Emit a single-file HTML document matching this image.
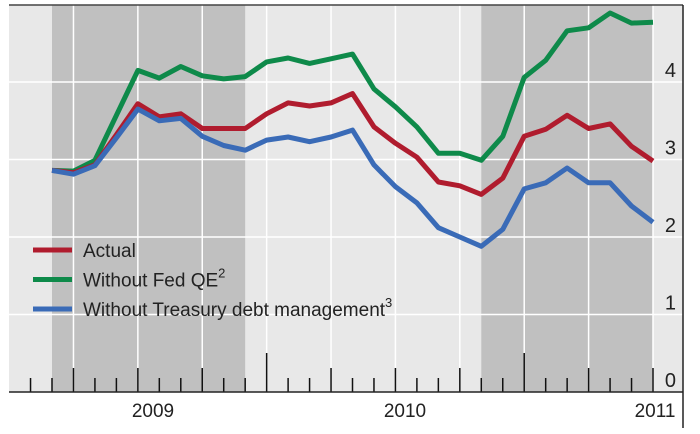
<!DOCTYPE html>
<html><head><meta charset="utf-8"><style>
html,body{margin:0;padding:0;background:#fff;}
svg{display:block;font-family:"Liberation Sans",Arial,sans-serif;}
</style></head><body>
<svg id="chart" width="700" height="434" viewBox="0 0 700 434" xmlns="http://www.w3.org/2000/svg"></svg>
<script>
const actual = [2.86,2.83,2.93,3.32,3.72,3.55,3.59,3.40,3.40,3.40,3.59,3.73,3.69,3.73,3.85,3.42,3.21,3.03,2.71,2.66,2.55,2.76,3.30,3.39,3.57,3.40,3.46,3.17,2.98];
const withoutQE = [2.86,2.85,2.99,3.57,4.15,4.05,4.20,4.08,4.04,4.07,4.26,4.31,4.24,4.30,4.36,3.91,3.68,3.42,3.08,3.08,2.99,3.30,4.06,4.28,4.66,4.70,4.89,4.76,4.77];
const withoutTreasury = [2.86,2.81,2.92,3.28,3.65,3.50,3.53,3.30,3.18,3.12,3.25,3.29,3.23,3.29,3.38,2.93,2.65,2.44,2.12,2.00,1.88,2.10,2.62,2.70,2.89,2.70,2.70,2.40,2.19];
const yTicks = [0,1,2,3,4];
const yearLabels = ["2009","2010","2011"];
const shadedRanges = [[0,9],[20,28]];

const NS="http://www.w3.org/2000/svg";
const svg=document.getElementById('chart');
const L=9,R=683,T=5,B=392;
const x0=52,dx=(653-52)/28;
function xs(i){return x0+dx*i;}
function ys(v){return B-77.5*v;}
function mk(t,a,p){const e=document.createElementNS(NS,t);for(const k in a)e.setAttribute(k,a[k]);(p||svg).appendChild(e);return e;}

const bg=mk('rect',{x:L,y:T,width:R-L,height:B-T,fill:'#e8e8e8'});


shadedRanges.forEach(r=>{
  const s=mk('rect',{x:xs(r[0]),y:T,width:xs(r[1])-xs(r[0]),height:B-T,fill:'#c0c0c0'});
  
  
});
// vertical quarter gridlines
for(let i=1;i<=28;i+=3){
  const g=mk('line',{x1:xs(i),x2:xs(i),y1:T,y2:B,stroke:'#fff','stroke-width':1.5});
  
  
}
yTicks.forEach(v=>{
  if(v>0){
    const g=mk('line',{x1:L,x2:R,y1:ys(v),y2:ys(v),stroke:'#fff','stroke-width':1.5});
    
    
  }
  const t=mk('text',{x:676,y:ys(v)-5,'text-anchor':'end','font-size':20,fill:'#222'});
  t.textContent=v;
  
  
});
// month ticks
for(let k=-1;k<=28;k++){
  const x=xs(k);
  const q=((k-1)%3+3)%3===0;
  const yr=(k===10||k===22);
  const top=yr?353:(q?368:378);
  const tk=mk('line',{x1:x,x2:x,y1:top,y2:B,stroke:'#111','stroke-width':1.5});
  
  
}
const ax=mk('line',{x1:L,x2:R,y1:B,y2:B,stroke:'#222','stroke-width':1.5});


const tb=mk('line',{x1:L,x2:R,y1:T,y2:T,stroke:'#444','stroke-width':1.5});


const rb=mk('line',{x1:R,x2:R,y1:T,y2:428,stroke:'#222','stroke-width':1.5});


const yearX=[153,405,655];
yearLabels.forEach((s,i)=>{
  const t=mk('text',{x:yearX[i],y:417,'text-anchor':'middle','font-size':19,fill:'#222'});
  t.textContent=s;
  
  
});
function series(arr,color,name){
  const d=arr.map((v,i)=>(i?'L':'M')+xs(i).toFixed(1)+','+ys(v).toFixed(1)).join(' ');
  const p=mk('path',{d:d,fill:'none',stroke:color,'stroke-width':5,'stroke-linejoin':'round'});
  
  
}
series(withoutQE,'#0e8a4a','line-without-fed-qe');
series(actual,'#b01c2e','line-actual');
series(withoutTreasury,'#3a6bb7','line-without-treasury');
// legend
const leg=[['#b01c2e','Actual',''],['#0e8a4a','Without Fed QE','2'],['#3a6bb7','Without Treasury debt management','3']];
leg.forEach((e,i)=>{
  const y=250+29.5*i;
  const l=mk('line',{x1:33,x2:72,y1:y,y2:y,stroke:e[0],'stroke-width':5});
  
  
  const t=mk('text',{x:83,y:y+7,'font-size':19,fill:'#222'});
  t.textContent=e[1];
  
  
  if(e[2]){const s=mk('tspan',{dy:-9,'font-size':13},t);s.textContent=e[2];}
});
</script>
</body></html>
